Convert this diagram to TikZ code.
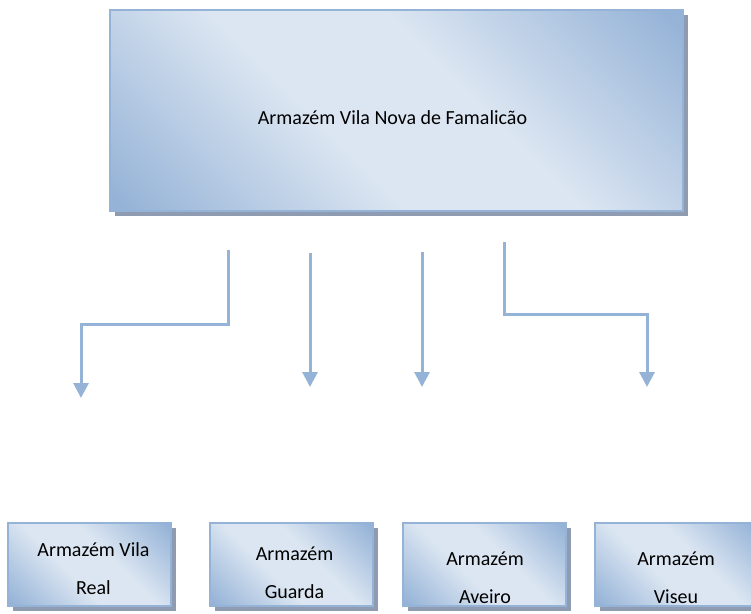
\documentclass[tikz,border=0pt]{standalone}
\usepackage{fontspec}
\setmainfont{Carlito}
\usetikzlibrary{arrows.meta,shadows}
\definecolor{boxblue}{HTML}{95B3D7}
\definecolor{boxlight}{HTML}{DCE6F2}
\definecolor{boxshadow}{HTML}{8E9BB0}
\pgfdeclarehorizontalshading{boxshade}{100bp}{color(0bp)=(boxblue); color(16bp)=(boxblue); color(42bp)=(boxlight); color(58bp)=(boxlight); color(84bp)=(boxblue); color(100bp)=(boxblue)}
\begin{document}
\begin{tikzpicture}[x=1pt,y=-1pt,
box/.style={rectangle,draw=boxblue,line width=1.5pt,shading=boxshade,shading angle=45,
  drop shadow={shadow xshift=4.5pt,shadow yshift=-4.5pt,fill=boxshadow,opacity=1}},
smallbox/.style={box,minimum width=163pt,minimum height=83pt},
boxtext/.style={align=center,font=\fontsize{20}{23}\selectfont},
link/.style={boxblue,line width=3pt,-{Triangle[width=15pt,length=15pt]}}]

\useasboundingbox (0,0) rectangle (751,613);
\clip (0,0) rectangle (751,613);

\node (main) at (396.5,110.5) [box,minimum width=573pt,minimum height=201pt] {};
\node (maint) at (392.5,118) [boxtext] {Armazém Vila Nova de Famalicão};

\node (vr) at (89.5,564.5) [smallbox] {};
\node (vrt) at (93.5,569) [boxtext] {Armazém Vila\\[15pt]Real};
\node (gu) at (291.5,564.5) [smallbox] {};
\node (gut) at (294.5,572.5) [boxtext] {Armazém\\[15pt]Guarda};
\node (av) at (484.5,564.5) [smallbox] {};
\node (avt) at (485,578) [boxtext] {Armazém\\[15pt]Aveiro};
\node (vi) at (676.5,564.5) [smallbox] {};
\node (vit) at (676,578) [boxtext] {Armazém\\[15pt]Viseu};

\coordinate (s1) at (228,250);
\coordinate (e1) at (81,398);
\coordinate (s2) at (310,253);
\coordinate (e2) at (310,387);
\coordinate (s3) at (422,252);
\coordinate (e3) at (422,387);
\coordinate (s4) at (504,242);
\coordinate (e4) at (647,387);

\draw [link] (s1) -- ++(0,74) -| (e1);
\draw [link] (s2) -- (e2);
\draw [link] (s3) -- (e3);
\draw [link] (s4) -- ++(0,72) -| (e4);

\end{tikzpicture}
\end{document}
